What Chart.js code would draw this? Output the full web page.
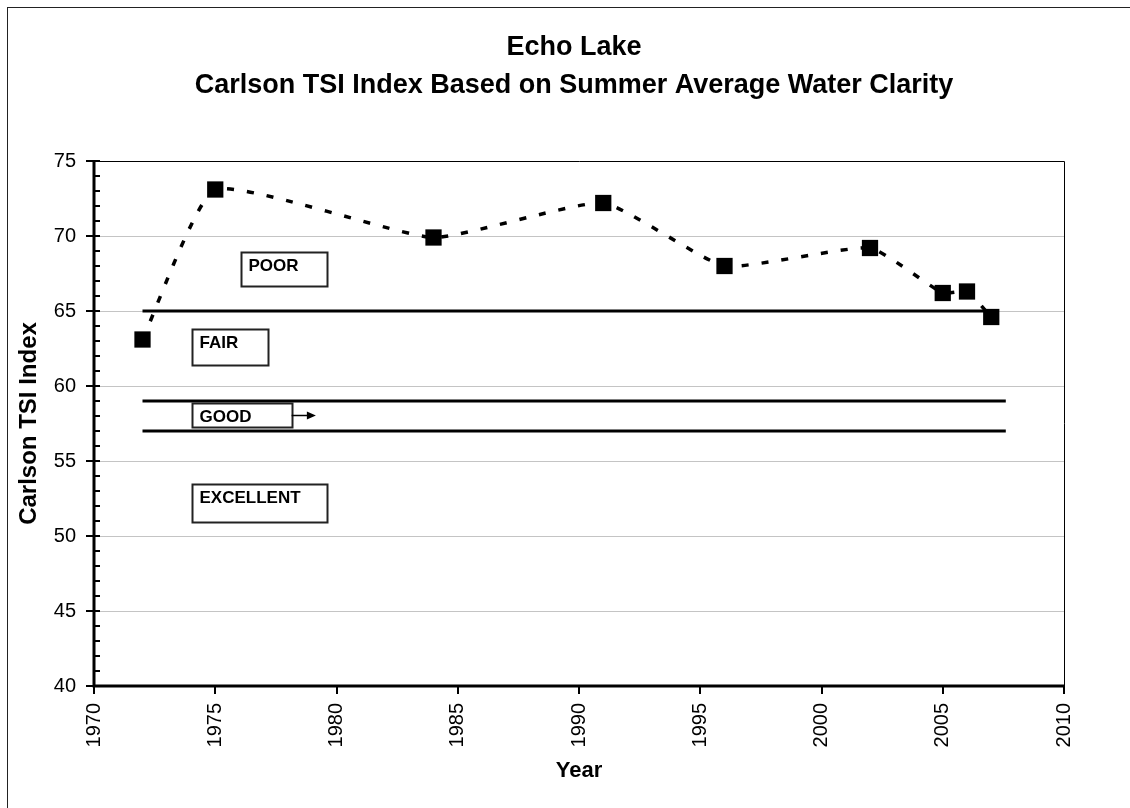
<!DOCTYPE html>
<html>
<head>
<meta charset="utf-8">
<title>Echo Lake - Carlson TSI</title>
<script src="https://cdn.jsdelivr.net/npm/chart.js@4.4.1/dist/chart.umd.min.js"></script>
<style>
    html, body { margin: 0; padding: 0; background: #fff; overflow: hidden; }
    .chart-wrap { position: relative; width: 1130px; height: 808px; }
</style>
</head>
<body>
<div class="chart-wrap"><canvas class="js-chart-tsi"></canvas></div>
<script>
// Summer average water clarity, expressed as Carlson TSI
const years = [1972, 1975, 1984, 1991, 1996, 2002, 2005, 2006, 2007];
const tsiValues = [63.1, 73.1, 69.9, 72.2, 68.0, 69.2, 66.2, 66.3, 64.6];

// Category limits and the years they are drawn over
const poorFairLimit = 65;
const goodLimits = [59, 57];
const limitYears = [1972, 2007];
const goodYears = [1972, 2007.6];

// Axis ranges / ticks
const yTicks = [40, 45, 50, 55, 60, 65, 70, 75];
const xTicks = [1970, 1975, 1980, 1985, 1990, 1995, 2000, 2005, 2010];

const titleLines = ['Echo Lake', 'Carlson TSI Index Based on Summer Average Water Clarity'];
const yTitle = 'Carlson TSI Index';
const xTitle = 'Year';
const categoryLabels = ['POOR', 'FAIR', 'GOOD', 'EXCELLENT'];

const FONT = "'Liberation Sans', Arial, sans-serif";

class pageTsiChart {
    // white page, thin frame on left/top and the two title lines
    static framePlugin() {
        return {
            id: 'frame',
            beforeDraw(chart) {
                const ctx = chart.ctx;
                ctx.save();
                ctx.fillStyle = '#fff';
                ctx.fillRect(0, 0, chart.width, chart.height);
                ctx.strokeStyle = '#222';
                ctx.lineWidth = 1;
                ctx.strokeRect(7.5, 7.5, chart.width + 20, chart.height + 20);

                // title is centred a bit right of the canvas middle, like the original
                ctx.fillStyle = '#000';
                ctx.font = 'bold 27px ' + FONT;
                ctx.textAlign = 'center';
                ctx.textBaseline = 'middle';
                ctx.fillText(titleLines[0], 574, 48);
                ctx.fillText(titleLines[1], 574, 86);
                ctx.restore();
            }
        };
    }

    // axis lines, tick marks and the category boxes
    static axesPlugin() {
        return {
            id: 'axesAndBoxes',
            afterDraw(chart) {
                const { ctx, chartArea: a, scales: { x, y } } = chart;
                ctx.save();
                ctx.strokeStyle = '#000';

                // thin top / right edge of the plot area
                ctx.lineWidth = 1;
                ctx.beginPath();
                ctx.moveTo(a.left, a.top + 0.5);
                ctx.lineTo(a.right + 0.5, a.top + 0.5);
                ctx.lineTo(a.right + 0.5, a.bottom);
                ctx.stroke();

                // y ticks: major every 5, minor every 1
                ctx.lineWidth = 2;
                for (let v = y.min; v <= y.max; v++) {
                    const py = Math.round(y.getPixelForValue(v));
                    const major = v % 5 === 0;
                    ctx.beginPath();
                    ctx.moveTo(a.left - (major ? 8 : 0), py);
                    ctx.lineTo(a.left + 6, py);
                    ctx.stroke();
                }
                // x ticks
                xTicks.forEach(v => {
                    const px = Math.round(x.getPixelForValue(v));
                    ctx.beginPath();
                    ctx.moveTo(px, a.bottom);
                    ctx.lineTo(px, a.bottom + 8);
                    ctx.stroke();
                });

                // thick axis lines
                ctx.lineWidth = 3;
                ctx.beginPath();
                ctx.moveTo(a.left, a.top);
                ctx.lineTo(a.left, a.bottom);
                ctx.lineTo(a.right + 1, a.bottom);
                ctx.stroke();

                // category boxes, placed in data units
                const boxes = [
                    { x0: 1976.05, x1: 1979.62, y0: 68.95, y1: 66.67 },
                    { x0: 1974.03, x1: 1977.19, y0: 63.78, y1: 61.40 },
                    { x0: 1974.03, x1: 1978.15, y0: 58.85, y1: 57.25 },
                    { x0: 1974.03, x1: 1979.62, y0: 53.45, y1: 50.95 }
                ];
                ctx.font = 'bold 17px ' + FONT;
                ctx.textBaseline = 'middle';
                ctx.textAlign = 'left';
                boxes.forEach((b, i) => {
                    const l = Math.round(x.getPixelForValue(b.x0)) + 0.5;
                    const r = Math.round(x.getPixelForValue(b.x1)) + 0.5;
                    const t = Math.round(y.getPixelForValue(b.y0)) + 0.5;
                    const bt = Math.round(y.getPixelForValue(b.y1)) + 0.5;
                    ctx.fillStyle = '#fff';
                    ctx.fillRect(l, t, r - l, bt - t);
                    ctx.lineWidth = 2;
                    ctx.strokeStyle = '#222';
                    ctx.strokeRect(l, t, r - l, bt - t);
                    ctx.fillStyle = '#000';
                    ctx.fillText(categoryLabels[i], l + 7, t + 14);
                });

                // little arrow out of the GOOD box
                const ax0 = x.getPixelForValue(1978.15);
                const ax1 = x.getPixelForValue(1979.15);
                const ay = Math.round(y.getPixelForValue(58.07)) + 0.5;
                ctx.lineWidth = 1.5;
                ctx.strokeStyle = '#000';
                ctx.beginPath();
                ctx.moveTo(ax0, ay);
                ctx.lineTo(ax1 - 7, ay);
                ctx.stroke();
                ctx.fillStyle = '#000';
                ctx.beginPath();
                ctx.moveTo(ax1, ay);
                ctx.lineTo(ax1 - 9, ay - 4);
                ctx.lineTo(ax1 - 9, ay + 4);
                ctx.closePath();
                ctx.fill();

                ctx.restore();
            }
        };
    }

    static limitLine(level, span) {
        return {
            label: 'limit ' + level,
            data: [{ x: span[0], y: level }, { x: span[1], y: level }],
            showLine: true,
            borderColor: '#000',
            borderWidth: 3,
            pointRadius: 0,
            order: 2
        };
    }

    static initChart() {
        if (typeof Chart === 'undefined') {
            return;
        }
        const canvas = document.querySelector('.js-chart-tsi');

        const datasets = [
            {
                label: 'Carlson TSI',
                data: years.map((yr, i) => ({ x: yr, y: tsiValues[i] })),
                showLine: true,
                borderColor: '#000',
                borderWidth: 3.5,
                borderDash: [7, 13],
                tension: 0.15,
                pointStyle: 'rect',
                pointRadius: 11.5,
                pointHoverRadius: 11.5,
                pointBackgroundColor: '#000',
                pointBorderColor: '#000',
                pointBorderWidth: 0,
                order: 0
            },
            pageTsiChart.limitLine(poorFairLimit, limitYears),
            pageTsiChart.limitLine(goodLimits[0], goodYears),
            pageTsiChart.limitLine(goodLimits[1], goodYears)
        ];

        new Chart(canvas, {
            type: 'scatter',
            data: { datasets: datasets },
            options: {
                responsive: true,
                maintainAspectRatio: false,
                animation: false,
                layout: { padding: { left: 0, right: 66, top: 161, bottom: 0 } },
                plugins: {
                    legend: { display: false },
                    tooltip: { enabled: false },
                    title: { display: false }
                },
                scales: {
                    x: {
                        type: 'linear',
                        min: xTicks[0],
                        max: xTicks[xTicks.length - 1],
                        afterBuildTicks: scale => { scale.ticks = xTicks.map(v => ({ value: v })); },
                        afterFit: scale => { scale.height = 122; },
                        grid: { display: false, drawTicks: false },
                        border: { display: false },
                        ticks: {
                            autoSkip: false,
                            minRotation: 90,
                            maxRotation: 90,
                            padding: 17,
                            color: '#000',
                            font: { family: FONT, size: 20 },
                            callback: v => String(v)
                        },
                        title: {
                            display: true,
                            text: xTitle,
                            color: '#000',
                            font: { family: FONT, size: 22, weight: 'bold', lineHeight: 1.2 },
                            padding: { top: 0, bottom: 24 }
                        }
                    },
                    y: {
                        min: yTicks[0],
                        max: yTicks[yTicks.length - 1],
                        afterBuildTicks: scale => { scale.ticks = yTicks.map(v => ({ value: v })); },
                        afterFit: scale => { scale.width = 94; },
                        grid: {
                            drawTicks: false,
                            lineWidth: 1,
                            color: c => (c.tick && (c.tick.value === yTicks[0] || c.tick.value === yTicks[yTicks.length - 1])) ? 'rgba(0,0,0,0)' : '#c4c4c4'
                        },
                        border: { display: false },
                        ticks: {
                            padding: 18,
                            color: '#000',
                            font: { family: FONT, size: 20 }
                        },
                        title: {
                            display: true,
                            text: yTitle,
                            color: '#000',
                            font: { family: FONT, size: 24, weight: 'bold', lineHeight: 1.2 },
                            padding: { top: 15, bottom: 0 }
                        }
                    }
                }
            },
            plugins: [pageTsiChart.framePlugin(), pageTsiChart.axesPlugin()]
        });
    }

    static init() {
        this.initChart();
    }
}

document.addEventListener('DOMContentLoaded', () => { pageTsiChart.init(); });
</script>
</body>
</html>
